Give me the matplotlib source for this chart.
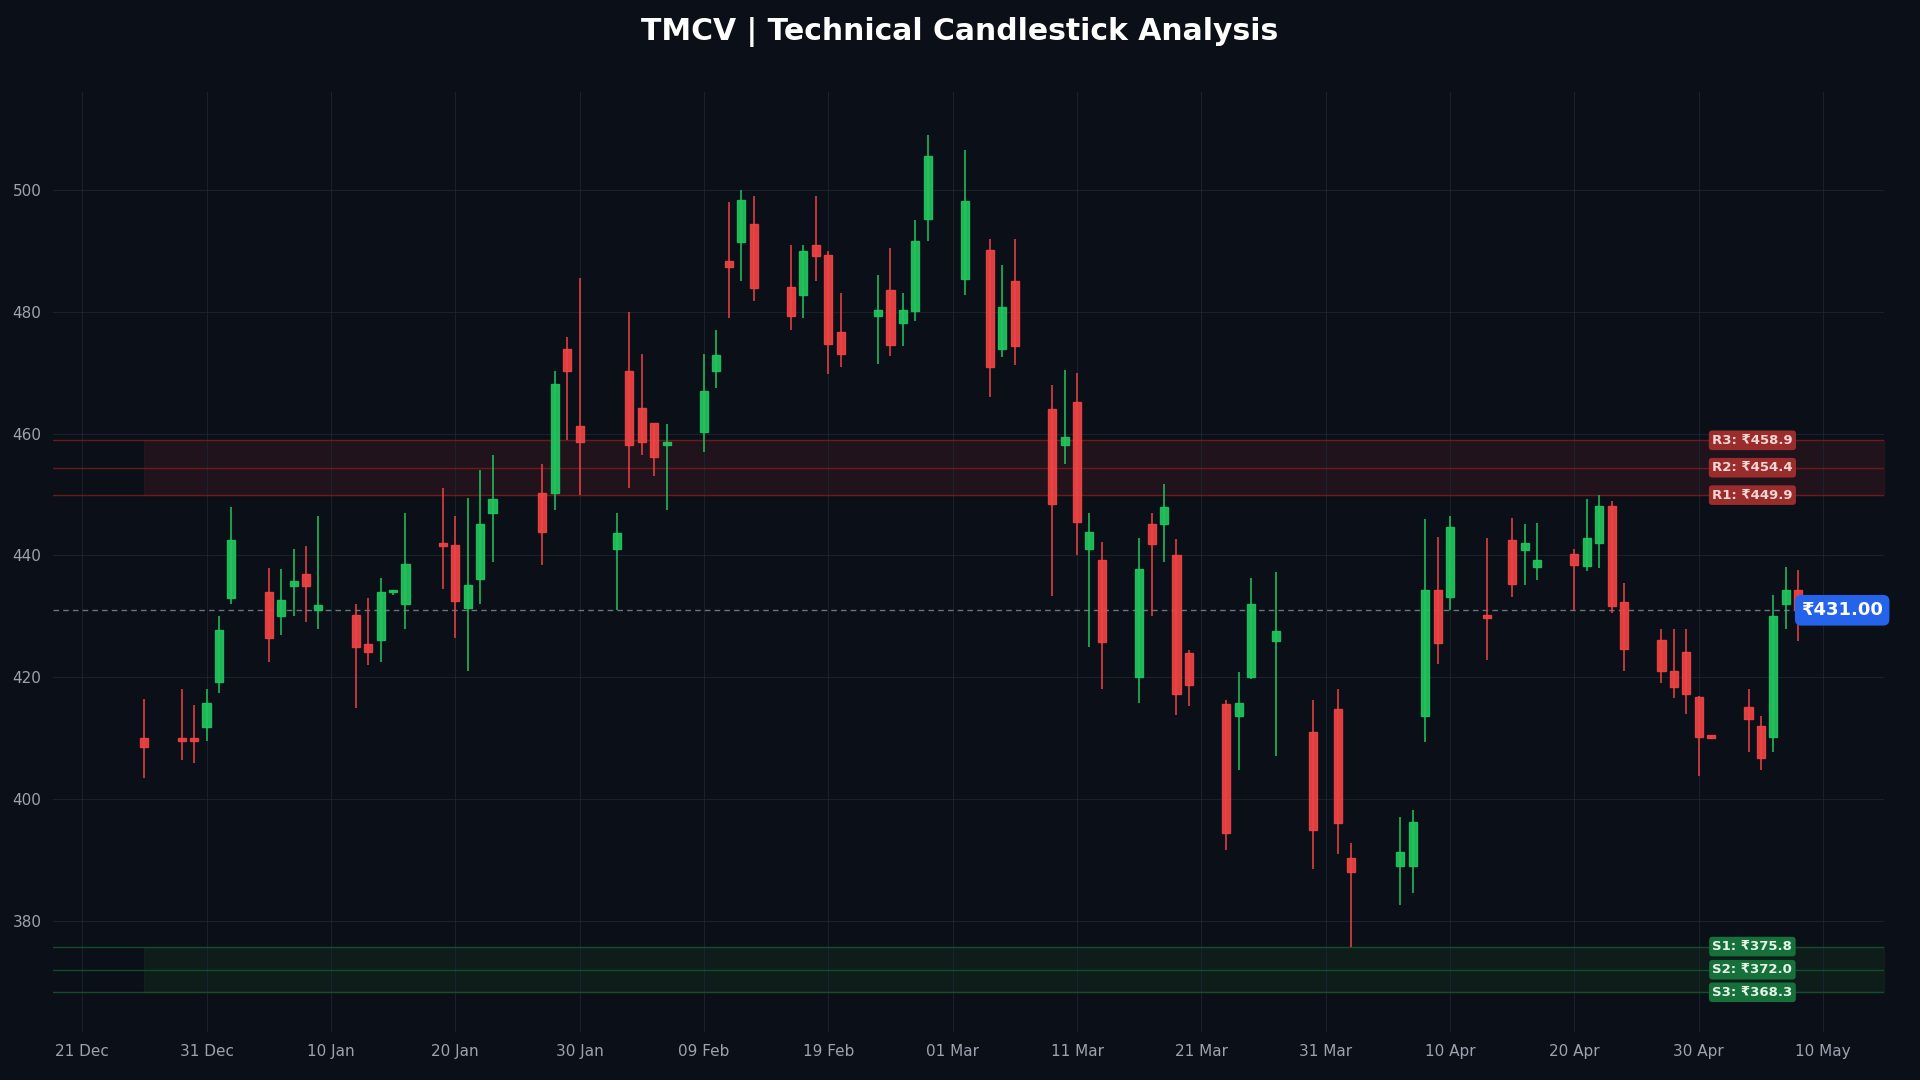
import matplotlib
matplotlib.use("Agg")
import matplotlib.pyplot as plt
import matplotlib.dates as mdates
import pandas as pd

dates = ["2025-12-26","2025-12-29","2025-12-30","2025-12-31","2026-01-01","2026-01-02",
 "2026-01-05","2026-01-06","2026-01-07","2026-01-08","2026-01-09",
 "2026-01-12","2026-01-13","2026-01-14","2026-01-15","2026-01-16",
 "2026-01-19","2026-01-20","2026-01-21","2026-01-22","2026-01-23",
 "2026-01-27","2026-01-28","2026-01-29","2026-01-30",
 "2026-02-02","2026-02-03","2026-02-04","2026-02-05","2026-02-06",
 "2026-02-09","2026-02-10","2026-02-11","2026-02-12","2026-02-13",
 "2026-02-16","2026-02-17","2026-02-18","2026-02-19","2026-02-20",
 "2026-02-23","2026-02-24","2026-02-25","2026-02-26","2026-02-27",
 "2026-03-02","2026-03-04","2026-03-05","2026-03-06",
 "2026-03-09","2026-03-10","2026-03-11","2026-03-12","2026-03-13",
 "2026-03-16","2026-03-17","2026-03-18","2026-03-19","2026-03-20",
 "2026-03-23","2026-03-24","2026-03-25","2026-03-27",
 "2026-03-30","2026-04-01","2026-04-02",
 "2026-04-06","2026-04-07","2026-04-08","2026-04-09","2026-04-10",
 "2026-04-13","2026-04-15","2026-04-16","2026-04-17",
 "2026-04-20","2026-04-21","2026-04-22","2026-04-23","2026-04-24",
 "2026-04-27","2026-04-28","2026-04-29","2026-04-30","2026-05-01",
 "2026-05-04","2026-05-05","2026-05-06","2026-05-07","2026-05-08"]
opens = [410,410,410,411.8,419.2,433, 434,430,435,437,431, 430.2,425.4,426.2,434,432,
 442,441.7,431.3,436.1,446.9, 450.2,450.2,473.9,461.2, 441.1,470.3,464.2,461.8,458.2,
 460.2,470.3,488.3,491.4,494.4, 484.1,482.7,491,489.3,476.7, 479.3,483.5,478.1,480.1,495.2,
 485.3,490.2,473.9,485.1, 464,458.2,465.2,441.1,439.3, 420,445.1,445.1,440.1,424,
 415.6,413.6,420,426, 411,414.8,390.3, 389,389,413.6,434.3,433.1, 430.2,442.5,440.9,438.1,
 440.3,438.3,442.1,448.1,432.3, 426.2,421,424.2,416.8,410.3, 415.2,412,410.2,432.1,434.3]
highs = [416.5,418,415.5,418,430,448, 438,437.7,441,441.5,446.5, 432,433,436.3,434.3,447,
 451,446.5,449.5,454,456.5, 455,470.3,475.8,485.5, 447,480,473,461.5,461.5,
 473,477,498,500,499, 491,491,499,490,483, 486,490.5,483,495,509,
 506.6,492,487.7,492, 467.9,470.5,470,447,442.2, 442.9,447,451.7,442.7,424.4,
 416.2,420.8,436.3,437.2, 416.2,418,392.8, 397,398.2,445.9,443.1,446.5, 442.9,446.1,445.1,445.3,
 441,449.3,450,449,435.5, 428,428,428,417,410.4, 418,413.6,433.5,438.1,437.6]
lows = [403.5,406.5,406,409.5,417.5,432, 422.5,427,430,429,428, 415,422,422.5,433.5,428,
 434.5,426.5,421,432,439, 438.5,447.5,459,450, 431,451,456.5,453,447.5,
 457,467.5,479,485,481.7, 477,479,485,469.8,471, 471.5,472.8,474.3,478.5,491.6,
 482.8,466,472.6,471.2, 433.4,455,440,425,418, 415.7,430,439,413.8,415.3,
 391.6,404.8,419.8,407, 388.6,391,375.8, 382.6,384.6,409.3,422.2,431, 422.8,433.1,435.1,435.9,
 431,437.5,437.9,430.5,421, 419,416.6,414,403.8,409.9, 407.8,404.8,407.8,428,426]
closes = [408.6,409.5,409.5,415.8,427.8,442.5, 426.4,432.7,435.8,435,431.9, 425,424.2,434,434.2,438.6,
 441.5,432.5,435.1,445.1,449.3, 443.9,468.2,470.3,458.6, 443.7,458.2,458.6,456.2,458.6,
 467,472.9,487.3,498.4,483.9, 479.3,489.9,489.1,474.7,473, 480.3,474.5,480.3,491.6,505.6,
 498.2,470.9,480.7,474.3, 448.5,459.4,445.5,443.9,425.8, 437.7,441.9,447.9,417.2,418.8,
 394.5,415.8,432.1,427.6, 394.9,396.1,388, 391.4,396.3,434.3,425.6,444.7, 429.8,435.3,442.1,439.3,
 438.5,442.9,448.1,431.7,424.6, 421,418.4,417.2,410.2,410.1, 413.2,406.7,430.1,434.3,431.0]

resistance = [449.9, 454.4, 458.9]
support = [375.8, 372.0, 368.3]
last_price = 431.00

BG = "#0b0f17"
GREEN = "#22c55e"
RED = "#ef4444"

plt.rcParams['font.family'] = ['DejaVu Sans']
fig = plt.figure(figsize=(19.2, 10.8), dpi=100, facecolor=BG)
ax = fig.add_axes([0.0274, 0.044, 0.954, 0.871], facecolor=BG)

x = mdates.date2num(pd.to_datetime(dates))
w = 0.65
for xi, o, h, l, c in zip(x, opens, highs, lows, closes):
    col = GREEN if c >= o else RED
    ax.vlines(xi, l, h, color=col, linewidth=1.1, zorder=3)
    bot = min(o, c); hgt = max(abs(c - o), 0.35)
    ax.bar(xi, hgt, width=w, bottom=bot, color=col, edgecolor=col, linewidth=1, alpha=0.92, zorder=4)

xl = mdates.date2num(pd.Timestamp("2025-12-18 15:00"))
xr = mdates.date2num(pd.Timestamp("2026-05-14 22:00"))
ax.set_xlim(xl, xr)
ax.set_ylim(361.7, 516.1)

ax.fill_between([x[0], xr], resistance[0], resistance[2], color="#3a1a22", alpha=0.45, zorder=1)
ax.fill_between([x[0], xr], support[2], support[0], color="#12301f", alpha=0.45, zorder=1)
for r in resistance:
    ax.axhline(r, color="#7f1d1d", linewidth=1.0, alpha=0.8, zorder=2)
for s in support:
    ax.axhline(s, color="#14532d", linewidth=1.0, alpha=0.9, zorder=2)
ax.axhline(last_price, color="#6b7280", linewidth=1.0, linestyle=(0, (4, 3)), zorder=2)

tr = ax.get_yaxis_transform()
for name, v in zip(["R1", "R2", "R3"], resistance):
    ax.text(0.928, v, f"{name}: ₹{v:.1f}", transform=tr, ha="center", va="center", fontsize=9.5,
            fontweight="bold", color="#f3d6d6",
            bbox=dict(boxstyle="round,pad=0.25", fc="#9b2c2c", ec="none"), zorder=6)
for name, v in zip(["S1", "S2", "S3"], support):
    ax.text(0.928, v, f"{name}: ₹{v:.1f}", transform=tr, ha="center", va="center", fontsize=9.5,
            fontweight="bold", color="#e6f5ea",
            bbox=dict(boxstyle="round,pad=0.25", fc="#15703a", ec="none"), zorder=6)
ax.text(0.977, last_price, f"₹{last_price:.2f}", transform=tr, ha="center", va="center", fontsize=13,
        fontweight="bold", color="white",
        bbox=dict(boxstyle="round,pad=0.35", fc="#2563eb", ec="none"), zorder=7)

ticks = pd.date_range("2025-12-21", "2026-05-10", freq="10D")
ax.set_xticks(mdates.date2num(ticks))
ax.xaxis.set_major_formatter(mdates.DateFormatter("%d %b"))
ax.set_yticks([380, 400, 420, 440, 460, 480, 500])
ax.tick_params(colors="#9ca3af", labelsize=11, length=0, pad=8)
ax.grid(True, color="#1f2937", linewidth=0.8, alpha=0.7, zorder=0)
for sp in ax.spines.values():
    sp.set_visible(False)

fig.text(0.5, 0.97, "TMCV | Technical Candlestick Analysis", ha="center", va="center",
         fontsize=21.5, fontweight="bold", color="white")

fig.savefig("out.png", dpi=100, facecolor=BG)
